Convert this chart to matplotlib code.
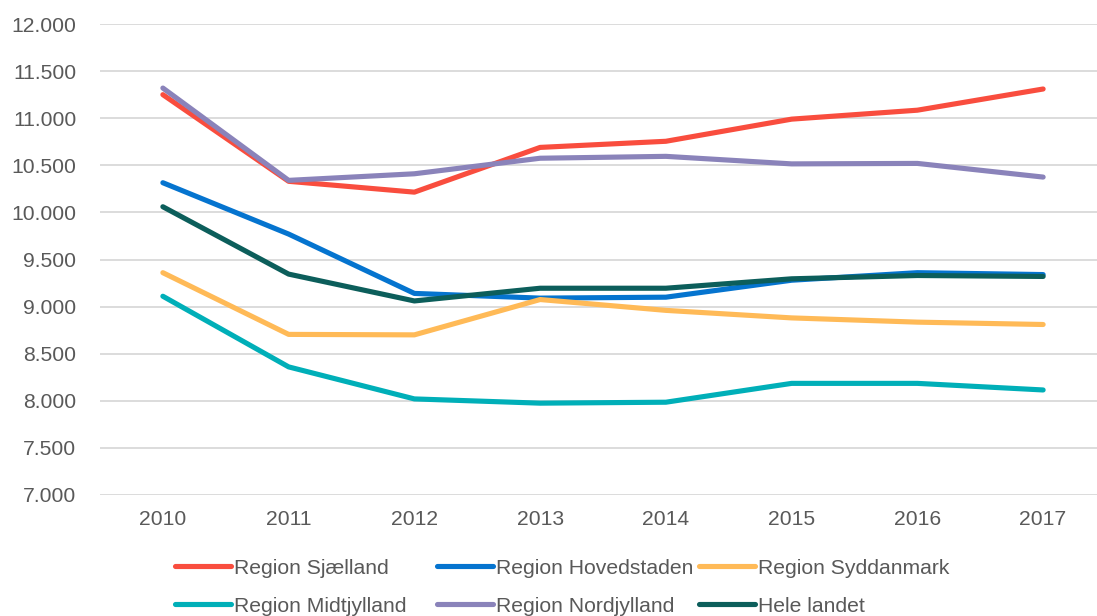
import matplotlib
matplotlib.use("Agg")
import matplotlib.pyplot as plt
from matplotlib.ticker import FuncFormatter, MultipleLocator

years = ["2010", "2011", "2012", "2013", "2014", "2015", "2016", "2017"]

sjaelland    = [11250, 10330, 10215, 10690, 10755, 10990, 11085, 11310]
hovedstaden  = [10315, 9770, 9140, 9090, 9100, 9280, 9360, 9340]
syddanmark   = [9360, 8705, 8700, 9075, 8960, 8880, 8835, 8810]
midtjylland  = [9110, 8360, 8020, 7975, 7985, 8185, 8185, 8115]
nordjylland  = [11320, 10340, 10410, 10575, 10595, 10515, 10520, 10375]
hele_landet  = [10060, 9345, 9060, 9195, 9195, 9295, 9330, 9320]

series = [
    ("Region Sjælland", sjaelland, "#F94D3E"),
    ("Region Hovedstaden", hovedstaden, "#0574CF"),
    ("Region Syddanmark", syddanmark, "#FFBA57"),
    ("Region Midtjylland", midtjylland, "#00AFB8"),
    ("Region Nordjylland", nordjylland, "#8A83BA"),
    ("Hele landet", hele_landet, "#0C5E5B"),
]

plt.rcParams['font.family'] = ['Liberation Sans', 'DejaVu Sans']
TXT = "#595959"
FS = 15.2

fig = plt.figure(figsize=(10.97, 6.16), dpi=100)
ax = fig.add_axes([100/1097, 1-495/616, 1006/1097, (495-24)/616])

x = list(range(len(years)))
handles = []
for name, vals, col in series:
    h, = ax.plot(x, vals, color=col, lw=3.7, solid_capstyle='round',
                 solid_joinstyle='round', label=name, zorder=3)
    handles.append(h)

ax.set_xlim(-0.5, len(years) - 0.5)
ax.set_ylim(7000, 12000)
ax.yaxis.set_major_locator(MultipleLocator(500))
ax.yaxis.set_major_formatter(FuncFormatter(lambda v, p: f"{int(v):,}".replace(",", ".")))
ax.set_xticks(x)
ax.set_xticklabels(years)
ax.grid(axis='y', color='#D9D9D9', lw=1.3, zorder=0)
ax.set_axisbelow(True)
for s in ax.spines.values():
    s.set_visible(False)
ax.tick_params(axis='both', length=0, labelsize=FS, colors=TXT)
ax.tick_params(axis='y', pad=17)
ax.tick_params(axis='x', pad=11)

# legend: 3 columns x 2 rows, placed at fixed positions
col_x = [175, 437, 699]
row_y = [568, 606]
for i, h in enumerate(handles):
    r, c = divmod(i, 3)
    fig.legend([h], [h.get_label()], loc='center left',
               bbox_to_anchor=(col_x[c]/1097, 1-row_y[r]/616),
               frameon=False, fontsize=FS, handlelength=2.65,
               handletextpad=0.15, borderpad=0, borderaxespad=0,
               labelcolor=TXT)

fig.savefig("out.png", dpi=100)
